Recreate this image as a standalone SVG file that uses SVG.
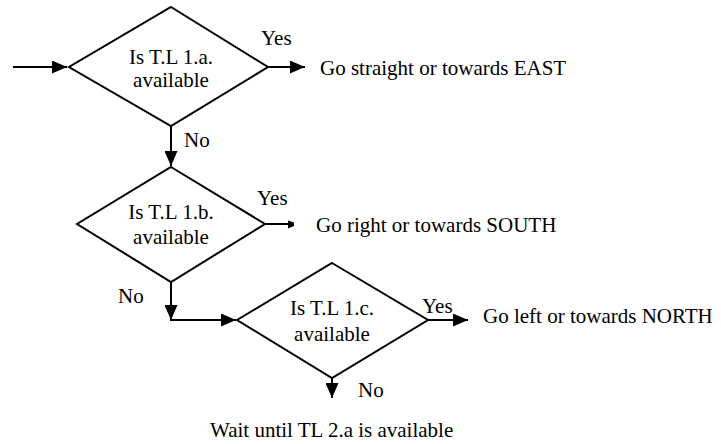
<svg xmlns="http://www.w3.org/2000/svg" width="721" height="444" viewBox="0 0 721 444">
  <defs>
    <marker id="arrow" markerUnits="userSpaceOnUse" markerWidth="15" markerHeight="13" refX="15" refY="6.5" orient="auto">
      <path d="M0,0 L15,6.5 L0,13 z" fill="#000"/>
    </marker>
  </defs>
  <style>
    .shape { fill: #fff; stroke: #000; stroke-width: 2; }
    .conn { fill: none; stroke: #000; stroke-width: 2; }
    text { font-family: "Liberation Serif", "Times New Roman", serif; font-size: 21px; fill: #000; }
    .c { text-anchor: middle; }
  </style>
  <rect width="721" height="444" fill="#fff"/>
  <g id="connectors">
    <line class="conn" x1="13" y1="67" x2="67" y2="67" marker-end="url(#arrow)"/>
    <line class="conn" x1="268" y1="67" x2="305" y2="67" marker-end="url(#arrow)"/>
    <line class="conn" x1="171" y1="126" x2="171" y2="166" marker-end="url(#arrow)"/>
    <line class="conn" x1="265" y1="224" x2="289" y2="224"/>
    <polygon points="288,220.5 294,222.5 294,226 288,228.5" fill="#000"/>
    <line class="conn" x1="171" y1="282" x2="171" y2="320" marker-end="url(#arrow)"/>
    <line class="conn" x1="170" y1="320" x2="236" y2="320" marker-end="url(#arrow)"/>
    <line class="conn" x1="428" y1="320" x2="468" y2="320" marker-end="url(#arrow)"/>
    <line class="conn" x1="332" y1="378" x2="332" y2="398" marker-end="url(#arrow)"/>
  </g>
  <g id="decision1">
    <polygon class="shape" points="171,7 268,67 171,126 69,67"/>
    <text class="c" x="171" y="64">Is T.L 1.a.</text>
    <text class="c" x="171" y="87">available</text>
  </g>
  <g id="decision2">
    <polygon class="shape" points="171,167 265,224 171,282 77,224"/>
    <text class="c" x="171" y="219">Is T.L 1.b.</text>
    <text class="c" x="171" y="244">available</text>
  </g>
  <g id="decision3">
    <polygon class="shape" points="332,263 428,320 332,378 237,320"/>
    <text class="c" x="332" y="315">Is T.L 1.c.</text>
    <text class="c" x="332" y="341">available</text>
  </g>
  <g id="labels">
    <text x="261" y="45">Yes</text>
    <text x="184" y="147">No</text>
    <text x="257" y="205">Yes</text>
    <text x="118" y="303">No</text>
    <text x="422" y="313">Yes</text>
    <text x="358" y="397">No</text>
  </g>
  <g id="outcome-east"><text x="320" y="75">Go straight or towards EAST</text></g>
  <g id="outcome-south"><text x="316" y="232">Go right or towards SOUTH</text></g>
  <g id="outcome-north"><text x="483" y="323">Go left or towards NORTH</text></g>
  <g id="outcome-wait"><text x="210" y="437">Wait until TL 2.a is available</text></g>
</svg>
